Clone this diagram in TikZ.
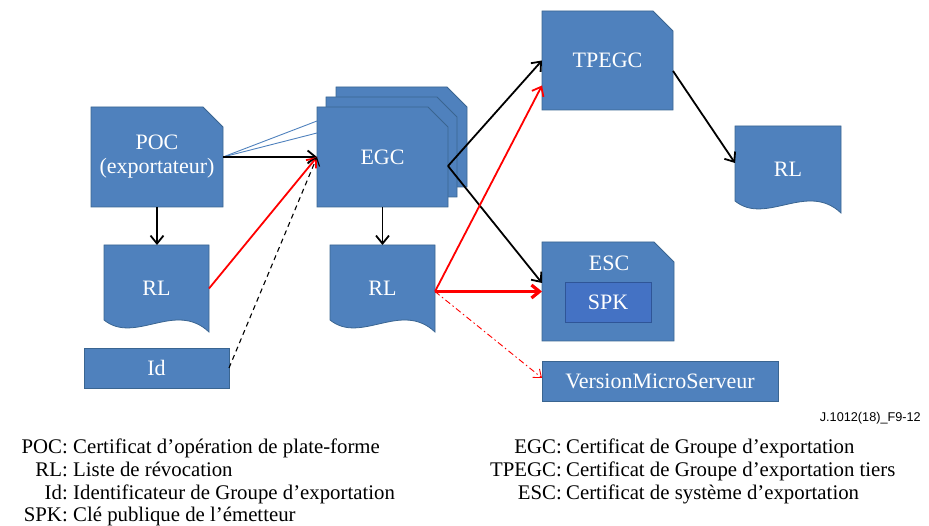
\documentclass[tikz,border=0pt]{standalone}
\usepackage{fontspec}
\setmainfont{Liberation Serif}
\newfontfamily\figsans{Liberation Sans}
\usetikzlibrary{arrows.meta,backgrounds}
\definecolor{boxblue}{HTML}{4F81BD}
\definecolor{boxline}{HTML}{3A6591}
\definecolor{spkblue}{HTML}{4472C4}
\definecolor{spkline}{HTML}{2F5597}
\definecolor{arrred}{HTML}{FF0000}
\newcommand\snipbox[1]{\filldraw[boxshape] (#1.north west) -- ([xshift=-20pt]#1.north east) -- ([yshift=-20pt]#1.north east) -- (#1.south east) -- (#1.south west) -- cycle;}
\newcommand\docbox[1]{\filldraw[boxshape] (#1.north west) -- (#1.north east) -- (#1.south east) .. controls ([shift={(-34pt,32pt)}]#1.south east) and ([shift={(31pt,-13pt)}]#1.south west) .. ([yshift=12pt]#1.south west) -- cycle;}
\tikzset{
  boxshape/.style={fill=boxblue, draw=boxline, line width=0.8pt},
  area/.style={inner sep=0pt, outer sep=0pt, text=white, align=center,
    font=\fontsize{22}{24}\selectfont},
  legkey/.style={anchor=base east, inner sep=0pt, font=\fontsize{20.8}{22}\selectfont},
  legtxt/.style={anchor=base west, inner sep=0pt, font=\fontsize{20.8}{22}\selectfont},
  blkarr/.style={draw=black, line width=1.8pt, -{Straight Barb[length=8pt,width=13pt]}},
  redarr/.style={draw=arrred, line width=1.8pt, -{Straight Barb[length=8pt,width=13pt]}},
  thinline/.style={draw=boxblue, line width=0.9pt},
}
\begin{document}
\begin{tikzpicture}[x=1pt,y=-1pt]
\useasboundingbox (0,0) rectangle (929,526);
% nodes
\node[area, minimum width=132pt, minimum height=100pt] (poc) at (157,157) {POC\\(exportateur)};
\node[area, minimum width=131pt, minimum height=100pt] (egcb) at (401.5,137) {};
\node[area, minimum width=131pt, minimum height=100pt] (egcm) at (391.5,147) {};
\node[area, minimum width=131pt, minimum height=100pt] (egc) at (382.5,157) {EGC};
\node[area, minimum width=131pt, minimum height=99pt] (tpegc) at (607.5,60.5) {TPEGC};
\node[area, minimum width=105pt, minimum height=87pt] (rla) at (156.5,288.5) {RL};
\node[area, minimum width=105pt, minimum height=87pt] (rlb) at (382.5,288.5) {RL};
\node[area, minimum width=106pt, minimum height=87pt] (rlc) at (788,169.5) {RL};
\node[area, minimum width=145pt, minimum height=40pt] (id) at (156.5,368) {Id};
\node[area, minimum width=132pt, minimum height=99pt] (esc) at (608,291.5) {};
\node[area] (esct) at (609,263) {ESC};
\node[area, minimum width=86pt, minimum height=40pt, fill=spkblue, draw=spkline, line width=0.8pt] (spk) at (608,302) {SPK};
\node[area, minimum width=236pt, minimum height=40pt] (vms) at (660,381) {VersionMicroServeur};
% shapes
\begin{scope}[on background layer]
  \snipbox{egcb}
  \snipbox{egcm}
  \snipbox{egc}
  \snipbox{poc}
  \snipbox{tpegc}
  \snipbox{esc}
  \docbox{rla}
  \docbox{rlb}
  \docbox{rlc}
  \filldraw[boxshape] (id.north west) rectangle (id.south east);
  \filldraw[boxshape] (vms.north west) rectangle (vms.south east);
\end{scope}
% connection points
\coordinate (egcout) at ([yshift=-9pt]egc.east);
\coordinate (rlbout) at ([yshift=-3pt]rlb.east);
% connectors
\draw[thinline] (poc.east) -- ([yshift=36pt]egc.west);
\draw[thinline] (poc.east) -- ([yshift=24pt]egc.west);
\draw[blkarr] (poc.east) -- (egc.west);
\draw[blkarr] (poc.south) -- (poc.south |- rla.north);
\draw[blkarr] (egc.south) -- (egc.south |- rlb.north);
\draw[redarr] (rla.east) -- (egc.west);
\draw[draw=black, line width=1.1pt, dash pattern=on 5pt off 4pt, -{Straight Barb[length=7pt,width=12pt]}] (id.east) -- (egc.west);
\draw[blkarr] (egcout) -- (tpegc.west);
\draw[blkarr] (egcout) -- ([yshift=8.5pt]esc.west);
\draw[redarr] (rlbout) -- ([yshift=-25pt]tpegc.west);
\draw[redarr, line width=3.2pt] (rlbout) -- (rlbout -| esc.west);
\draw[draw=arrred, line width=0.9pt, dash pattern=on 6pt off 3pt on 1.5pt off 3pt, -{Straight Barb[length=7pt,width=11pt]}] (rlbout) -- ([yshift=3pt]vms.west);
\draw[blkarr] ([yshift=-10.5pt]tpegc.east) -- ([yshift=6.5pt]rlc.west);
% reference label
\node[anchor=base east, inner sep=0pt, font=\figsans\fontsize{12.7}{14}\selectfont] (ref) at (921,421) {J.1012(18)\_F9-12};
% legend left
\node[legkey] (k1) at (68,453) {POC:};
\node[legtxt] (t1) at (73,453) {Certificat d’opération de plate-forme};
\node[legkey] (k2) at (68,476) {RL:};
\node[legtxt] (t2) at (73,476) {Liste de révocation};
\node[legkey] (k3) at (68,499) {Id:};
\node[legtxt] (t3) at (73,499) {Identificateur de Groupe d’exportation};
\node[legkey] (k4) at (68,521) {SPK:};
\node[legtxt] (t4) at (73,521) {Clé publique de l’émetteur};
% legend right
\node[legkey] (k5) at (562,453) {EGC:};
\node[legtxt] (t5) at (566,453) {Certificat de Groupe d’exportation};
\node[legkey] (k6) at (562,476) {TPEGC:};
\node[legtxt] (t6) at (566,476) {Certificat de Groupe d’exportation tiers};
\node[legkey] (k7) at (562,499) {ESC:};
\node[legtxt] (t7) at (566,499) {Certificat de système d’exportation};
\end{tikzpicture}
\end{document}
